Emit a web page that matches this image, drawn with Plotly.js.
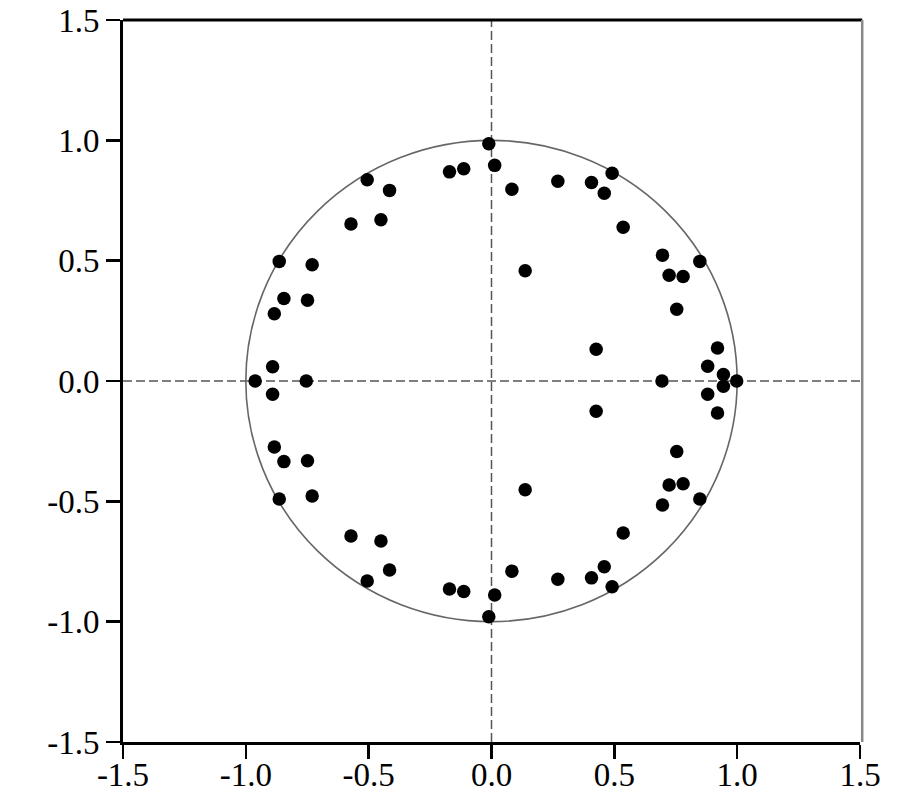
<!DOCTYPE html>
<html>
<head>
<meta charset="utf-8">
<script src="https://cdn.plot.ly/plotly-3.0.1.min.js"></script>
<style>html,body{margin:0;padding:0;background:#fff;}#chart{width:921px;height:794px;}</style>
</head>
<body>
<div id="chart"></div>
<script>
// Real parts of the points
var realParts = [
  -0.011, 0.013, -0.171, -0.113, -0.506, -0.415, -0.572, -0.450, -0.864, -0.730,
  -0.845, -0.749, -0.884, -0.891, 0.083, 0.270, 0.407, 0.491, 0.459, 0.536,
  0.696, 0.848, 0.723, 0.780, 0.754, 0.137, 0.426, 0.920, 0.880, 0.944,
  -0.962, -0.754, 0.694, 0.998,
  -0.891, -0.884, -0.845, -0.749, -0.864, -0.730, -0.572, -0.450, -0.415, -0.506,
  -0.171, -0.113, 0.013, -0.011, 0.083, 0.270, 0.407, 0.459, 0.491, 0.536,
  0.696, 0.848, 0.723, 0.780, 0.754, 0.137, 0.426, 0.920, 0.880, 0.944
];
// Imaginary parts of the points
var imagParts = [
  0.986, 0.896, 0.869, 0.882, 0.836, 0.792, 0.652, 0.670, 0.497, 0.483,
  0.343, 0.336, 0.279, 0.059, 0.797, 0.830, 0.825, 0.863, 0.780, 0.639,
  0.523, 0.497, 0.439, 0.434, 0.298, 0.458, 0.132, 0.137, 0.061, 0.027,
  0.0, 0.0, 0.0, 0.0,
  -0.055, -0.274, -0.335, -0.331, -0.490, -0.478, -0.644, -0.665, -0.785, -0.831,
  -0.864, -0.875, -0.889, -0.980, -0.790, -0.824, -0.818, -0.772, -0.855, -0.632,
  -0.515, -0.490, -0.432, -0.427, -0.293, -0.452, -0.126, -0.133, -0.055, -0.022
];
var tickVals = [-1.5, -1.0, -0.5, 0.0, 0.5, 1.0, 1.5];
var tickText = ["-1.5", "-1.0", "-0.5", "0.0", "0.5", "1.0", "1.5"];

var trace = {
  x: realParts, y: imagParts, type: 'scatter', mode: 'markers',
  marker: {color: '#000', size: 13.5, line: {width: 0}},
  hoverinfo: 'x+y'
};

var fontFam = 'Liberation Serif, Times New Roman, Times, serif';
var axisCommon = {
  range: [-1.5, 1.5], tickmode: 'array', tickvals: tickVals, ticktext: tickText,
  showgrid: false, zeroline: false, showline: true, linecolor: '#000', linewidth: 3,
  ticks: 'outside', ticklen: 14, tickwidth: 2.5, tickcolor: '#000',
  tickfont: {family: fontFam, size: 33, color: '#000'}
};

var layout = {
  width: 921, height: 794,
  margin: {l: 123, r: 61, t: 20, b: 52},
  paper_bgcolor: '#fff', plot_bgcolor: '#fff',
  showlegend: false,
  font: {family: fontFam},
  xaxis: Object.assign({}, axisCommon, {mirror: false, ticklabelstandoff: -13}),
  yaxis: Object.assign({}, axisCommon, {mirror: false}),
  shapes: [
    {type: 'circle', xref: 'x', yref: 'y', x0: -1, x1: 1, y0: -1, y1: 1,
     line: {color: '#666', width: 1.6}, layer: 'below'},
    {type: 'line', xref: 'paper', yref: 'y', x0: 0, x1: 1, y0: 0, y1: 0,
     line: {color: '#555', width: 1.5, dash: '9px,4px'}, layer: 'below'},
    {type: 'line', xref: 'x', yref: 'paper', x0: 0, x1: 0, y0: 0, y1: 1,
     line: {color: '#555', width: 1.5, dash: '9px,4px'}, layer: 'below'},
    {type: 'line', xref: 'paper', yref: 'paper', x0: 0, x1: 1.003, y0: 1, y1: 1,
     line: {color: '#000', width: 3}},
    {type: 'line', xref: 'paper', yref: 'paper', x0: 1.003, x1: 1.003, y0: 0, y1: 1,
     line: {color: '#888', width: 2.5}}
  ]
};

Plotly.newPlot('chart', [trace], layout, {displayModeBar: false, staticPlot: true});
</script>
</body>
</html>
